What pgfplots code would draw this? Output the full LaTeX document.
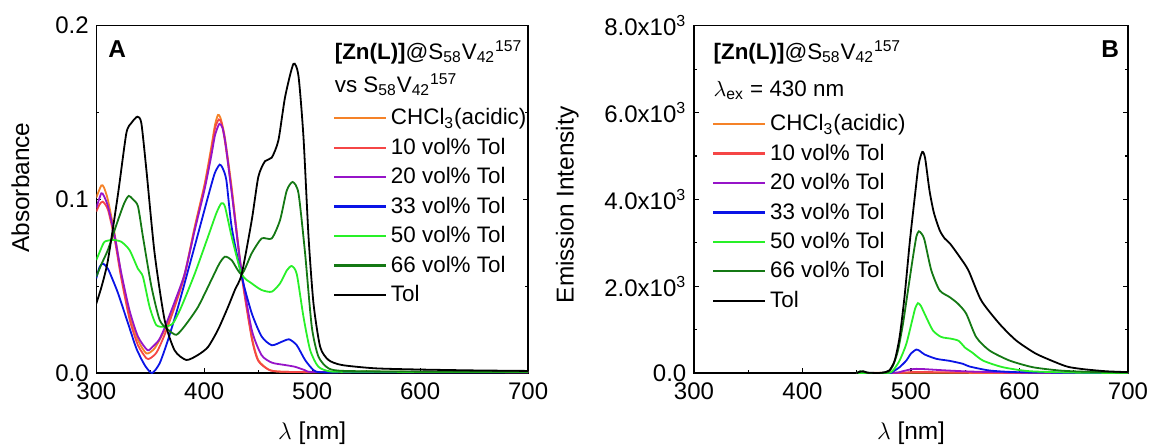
\documentclass[border=0pt]{standalone}
\usepackage{fontspec}
\setmainfont{Liberation Sans}
\usepackage{pgfplots}
\pgfplotsset{compat=1.18}

\definecolor{cOrange}{RGB}{245,130,40}
\definecolor{cRed}{RGB}{245,70,70}
\definecolor{cPurple}{RGB}{150,20,200}
\definecolor{cBlue}{RGB}{10,20,230}
\definecolor{cLGreen}{RGB}{40,240,40}
\definecolor{cDGreen}{RGB}{20,120,20}

\pgfplotsset{
  panel/.style={
    scale only axis,
    height=173.65pt,
    xmin=300, xmax=700,
    xtick={300,400,...,700}, minor x tick num=1,
    xtick pos=lower, ytick pos=both,
    tick align=inside,
    major tick length=2.6pt, minor tick length=1.6pt,
    axis line style={line width=0.7pt},
    every tick/.style={line width=0.6pt, black},
    font=\fontsize{11.2}{13}\selectfont,
    tick label style={font=\fontsize{12}{14}\selectfont},
    label style={font=\fontsize{12.2}{14}\selectfont},
    /pgf/number format/assume math mode=true,
    x tick label style={yshift=-1.45pt},
    y tick label style={xshift=-0.3pt},
    xlabel={$\lambda$ [nm]},
    xlabel style={at={(axis description cs:0.5,0)}, anchor=center, yshift=-29.9pt},
    legend cell align=left,
    legend image code/.code={\draw[##1, line width=1.1pt] (0pt,0pt) -- (26pt,0pt);},
    every axis plot/.append style={line width=0.9pt, smooth, tension=0.4},
  },
}

\begin{document}
\begin{tikzpicture}
% ---------------- A: absorbance ----------------
\begin{axis}[panel,
    at={(0pt,0pt)}, anchor=south west,
    width=215.9pt,
    ymin=0, ymax=0.2,
    ytick={0,0.1,0.2}, yticklabels={0.0,0.1,0.2},
    minor y tick num=1,
    ylabel={Absorbance},
    ylabel style={at={(axis description cs:-0.1758,0.534)}, anchor=center},
    legend style={draw=none, fill=none, at={(axis description cs:0.534,0.784)},
        anchor=north west, row sep=1.6pt,
        nodes={inner sep=1.75pt}},
]
\addplot[cOrange] coordinates {
(300,0.101) (304.6,0.108) (307,0.107) (310.8,0.0996) (317,0.080) (323,0.057)
(330.8,0.034) (338.6,0.019) (346.4,0.0113) (354,0.0142) (363.3,0.0248)
(372.6,0.040) (381.8,0.057) (391.1,0.084) (400.4,0.109) (406.5,0.130)
(410,0.143) (412.7,0.1486) (415,0.147) (419,0.136) (425.4,0.107)
(434.7,0.057) (444,0.021) (450,0.0075) (459.6,0.002) (470,0.0008)
(500,0.0005) (550,0.0008) (600,0.0006) (650,0.0008) (700,0.0006)
};
\addlegendentry{CHCl\textsubscript{3}(acidic)\rule[-3.2pt]{0pt}{0pt}}
\addplot[cRed] coordinates {
(300,0.093) (303,0.097) (306,0.0987) (310.8,0.094) (317,0.077) (323,0.055)
(330.8,0.031) (338.6,0.016) (346.4,0.0085) (350,0.0085) (356,0.012)
(363.3,0.022) (372.6,0.038) (381.8,0.056) (391.1,0.083) (400.4,0.108)
(406.5,0.128) (410,0.141) (413.5,0.146) (416,0.144) (419,0.134)
(425.4,0.105) (434.7,0.056) (444,0.020) (450,0.007) (460,0.0018)
(470,0.0008) (500,0.0005) (600,0.0006) (700,0.0005)
};
\addlegendentry{10 vol\% Tol}
\addplot[cPurple] coordinates {
(300,0.095) (304.6,0.1035) (307,0.102) (310.8,0.096) (317,0.079) (323,0.058)
(330.8,0.036) (338.6,0.021) (347.3,0.0132) (352,0.015) (358,0.019)
(363.3,0.026) (372.6,0.041) (381.8,0.057) (391.1,0.082) (400.4,0.106)
(406.5,0.125) (410,0.137) (414,0.1435) (417,0.141) (420,0.131)
(425.4,0.104) (434.7,0.058) (444,0.0248) (453,0.0104) (462.5,0.006)
(474.9,0.0046) (484,0.0036) (493,0.0017) (500,0.0006) (550,0.0006)
(600,0.0005) (700,0.0005)
};
\addlegendentry{20 vol\% Tol}
\addplot[cBlue] coordinates {
(300,0.0545) (303,0.061) (306.2,0.063) (310.8,0.060) (315,0.054)
(320.1,0.046) (329.4,0.0286) (337.1,0.0142) (344.8,0.0046) (351.6,0.0)
(358.7,0.0056) (366.4,0.019) (375.7,0.038) (385,0.059) (394.2,0.080)
(403.5,0.1015) (409.7,0.115) (414.3,0.120) (417,0.118) (420.5,0.111)
(425.4,0.084) (434.7,0.0555) (444,0.0344) (453.2,0.021) (462.5,0.016)
(471.8,0.018) (478.6,0.0194) (485.7,0.016) (493.4,0.0075) (501.2,0.0017)
(508.9,0.0004) (550,0.0005) (600,0.0004) (700,0.0004)
};
\addlegendentry{33 vol\% Tol}
\addplot[cLGreen] coordinates {
(300,0.065) (304,0.071) (307.7,0.0756) (315.4,0.0766) (323.1,0.0756)
(330.8,0.0708) (338.6,0.060) (343.2,0.0555) (349.4,0.038) (355.6,0.0276)
(363.3,0.0267) (371,0.0286) (378.7,0.038) (391.1,0.057) (403.5,0.0785)
(411.2,0.092) (415.8,0.0977) (419.2,0.0958) (425.4,0.0785) (434.7,0.057)
(444,0.0516) (453.2,0.0478) (462.5,0.0468) (470.2,0.0516) (476.4,0.059)
(481,0.0616) (485.7,0.057) (491.9,0.0324) (498.1,0.0132) (505.8,0.0036)
(518.1,0.0008) (550,0.0008) (600,0.0006) (700,0.0006)
};
\addlegendentry{50 vol\% Tol}
\addplot[cDGreen] coordinates {
(300,0.0555) (305,0.063) (310.8,0.071) (320.1,0.088) (326,0.098) (330,0.102)
(334,0.100) (338.6,0.096) (343.2,0.0785) (351,0.050) (358.7,0.0305)
(366.4,0.025) (374.1,0.022) (381.8,0.027) (394.2,0.038) (406.5,0.0535)
(414,0.063) (419.2,0.067) (425.4,0.065) (434.7,0.057) (444,0.069)
(453.2,0.0775) (462.5,0.0775) (470.2,0.088) (476.4,0.105) (481.9,0.110)
(487.3,0.1035) (493.4,0.069) (499.6,0.0267) (505.8,0.0094) (515.1,0.0027)
(530,0.0012) (600,0.0008) (700,0.0008)
};
\addlegendentry{66 vol\% Tol}
\addplot[black] coordinates {
(300,0.040) (305,0.050) (310.8,0.065) (320.1,0.103) (327.8,0.138)
(332.5,0.144) (338,0.1476) (341.7,0.144) (346.4,0.117) (354,0.069)
(363.3,0.0305) (372.6,0.013) (383.4,0.0075) (394.2,0.0104) (403.5,0.015)
(412.8,0.025) (422,0.038) (428.5,0.048) (434.7,0.057) (444,0.088)
(450.1,0.113) (456.3,0.122) (462.5,0.124) (468.7,0.134) (474.9,0.159)
(482.6,0.178) (487.3,0.171) (491.9,0.136) (496.6,0.0785) (501.2,0.040)
(507.4,0.015) (515.1,0.0075) (527.5,0.0046) (558.4,0.0027) (600,0.002)
(650,0.0015) (700,0.0012)
};
\addlegendentry{Tol}
\node[anchor=base west] at (axis description cs:0.536,0.903)
  {\textbf{[Zn(L)]}@S\textsubscript{58}V\textsubscript{42}\textsuperscript{157}};
\node[anchor=base west] at (axis description cs:0.536,0.809)
  {vs S\textsubscript{58}V\textsubscript{42}\textsuperscript{157}};
\node[font=\fontsize{12.2}{14}\selectfont\bfseries] at (axis description cs:0.0485,0.933) {A};
\end{axis}

% ---------------- B: emission ----------------
\begin{axis}[panel,
    at={(298.85pt,0pt)}, anchor=south west,
    width=217pt,
    ymin=0, ymax=8000,
    ytick={0,2000,4000,6000,8000},
    yticklabels={0.0,2.0x10\textsuperscript{3},4.0x10\textsuperscript{3},6.0x10\textsuperscript{3},8.0x10\textsuperscript{3}},
    scaled y ticks=false,
    minor y tick num=1,
    ylabel={Emission Intensity},
    ylabel style={at={(axis description cs:-0.2917,0.484)}, anchor=center},
    legend style={draw=none, fill=none, at={(axis description cs:0.0276,0.767)},
        anchor=north west, row sep=1.6pt,
        nodes={inner sep=1.75pt}},
]
\addplot[cOrange] coordinates {
(450,0) (500,8) (520,8) (560,3) (600,0) (700,0)
};
\addlegendentry{CHCl\textsubscript{3}(acidic)\rule[-3.2pt]{0pt}{0pt}}
\addplot[cRed] coordinates {
(450,0) (490,5) (500,20) (508,25) (520,20) (540,14) (570,6) (620,0) (700,0)
};
\addlegendentry{10 vol\% Tol}
\addplot[cPurple] coordinates {
(450,0) (485,5) (492,40) (500,85) (505,95) (512,90) (525,70) (540,50)
(560,30) (600,10) (650,2) (700,0)
};
\addlegendentry{20 vol\% Tol}
\addplot[cBlue] coordinates {
(450,0) (480,5) (483.4,35) (489.5,135) (495.7,288) (500,450) (504.9,540)
(508,510) (512.5,427) (523.3,327) (535.6,280) (547.8,212) (553.9,150)
(572.3,58) (597,20) (650,5) (700,0)
};
\addlegendentry{33 vol\% Tol}
\addplot[cLGreen] coordinates {
(450,0) (478,0) (483.4,58) (489.5,288) (495.7,673) (501.8,1287) (504,1500)
(506.4,1610) (509,1550) (512.5,1366) (520.2,980) (527.9,830) (537,790)
(544,740) (550,580) (556,480) (566.2,288) (584.6,134) (609.1,42) (650,10)
(700,0)
};
\addlegendentry{50 vol\% Tol}
\addplot[cDGreen] coordinates {
(450,0) (453,40) (456,30) (460,0) (470,0) (478.8,20) (483.4,173) (488,519)
(492.6,1135) (497.2,1903) (501.8,2672) (505,3150) (507.3,3264) (510,3200)
(512.5,3057) (518.7,2365) (526.4,1903) (535.6,1749) (543.3,1596)
(550.9,1366) (560.1,826) (572.3,519) (590.7,288) (612.2,134) (636.7,58)
(660,30) (700,10)
};
\addlegendentry{66 vol\% Tol}
\addplot[black] coordinates {
(450,0) (453,30) (456,40) (460,10) (470,0) (474,10) (480,60) (485,290)
(489.5,830) (494,1750) (499,3050) (503.5,4060) (507,4800) (510.4,5094)
(513,4950) (517,4210) (521,3700) (526.4,3290) (531,3100) (536,2980)
(545,2670) (553,2360) (564.7,1673) (581.5,1134) (596.9,750) (615.3,443)
(636.7,212) (646,135) (660,85) (680,40) (700,20)
};
\addlegendentry{Tol}
\node[anchor=base west] at (axis description cs:0.029,0.903)
  {\textbf{[Zn(L)]}@S\textsubscript{58}V\textsubscript{42}\textsuperscript{157}};
\node[anchor=base west] at (axis description cs:0.029,0.797)
  {$\lambda$\textsubscript{ex} = 430 nm};
\node[font=\fontsize{12.2}{14}\selectfont\bfseries] at (axis description cs:0.959,0.933) {B};
\end{axis}

\pgfresetboundingbox
\path[use as bounding box] (-48.15pt,-37pt) rectangle (526.35pt,186.5pt);
\end{tikzpicture}
\end{document}
